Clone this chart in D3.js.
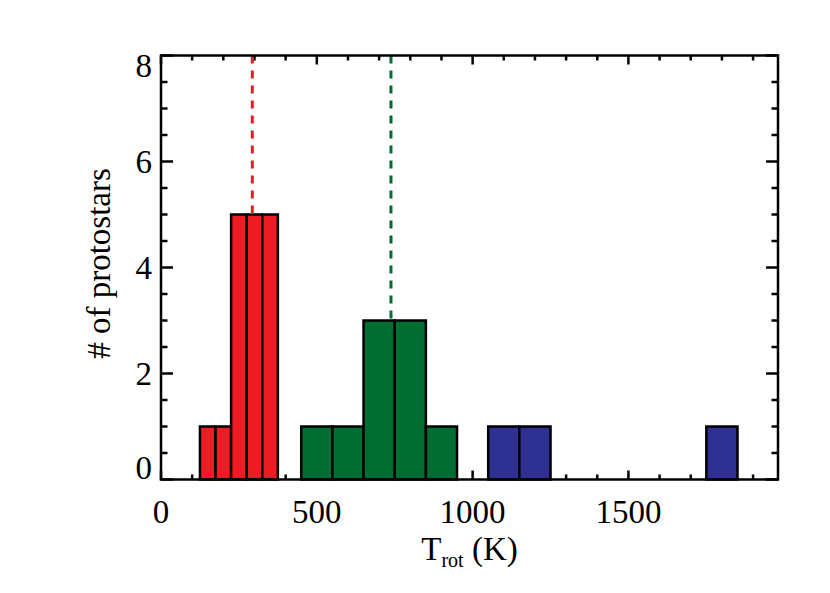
<!DOCTYPE html>
<html>
<head>
<meta charset="utf-8">
<script src="https://cdn.jsdelivr.net/npm/d3@7"></script>
<style>
  html, body { margin: 0; padding: 0; background: #fff; }
  svg { display: block; }
  text { font-family: "Liberation Serif", "DejaVu Serif", serif; fill: #000; }
</style>
</head>
<body>
<svg id="chart" width="830" height="593"></svg>
<script>
// ---- data ----
const binStarts = [125, 175, 225, 275, 325, 450, 550, 650, 750, 850, 1050, 1150, 1750];
const binEnds   = [175, 225, 275, 325, 375, 550, 650, 750, 850, 950, 1150, 1250, 1850];
const binCounts = [1, 1, 5, 5, 5, 1, 1, 3, 3, 1, 1, 1, 1];
const binGroups = ["low", "low", "low", "low", "low", "mid", "mid", "mid", "mid", "mid", "high", "high", "high"];
const groupNames = ["low", "mid", "high"];
const groupColors = ["#ed1c24", "#006e33", "#2e3192"];
const meanGroups = ["low", "mid"];
const meanValues = [293, 738];
const meanHeights = [5, 3];
const xTickValues = [0, 500, 1000, 1500];
const yTickValues = [0, 2, 4, 6, 8];
const xDomain = [0, 1980];
const yDomain = [0, 8];

// ---- layout ----
const svg = d3.select("#chart");
const L = 161, R = 778, T = 55.5, B = 479.5;
const x = d3.scaleLinear().domain(xDomain).range([L, R]);
const y = d3.scaleLinear().domain(yDomain).range([B, T]);
const color = d3.scaleOrdinal().domain(groupNames).range(groupColors);
const FS = 33;

const bins = binStarts.map((s, i) => ({ x0: s, x1: binEnds[i], n: binCounts[i], g: binGroups[i] }));

// ---- ticks (inward) ----
const xMinor = d3.range(0, xDomain[1] + 1, 100).filter(v => v % 500 !== 0);
const yMinor = d3.range(0, 8.01, 0.5).filter(v => v % 2 !== 0);
const tickG = svg.append("g").attr("stroke", "#000").attr("stroke-width", 2.5);

function addTicks(g, vals, len, orient) {
  g.selectAll(null).data(vals).enter().append("line")
    .attr("x1", d => orient === "b" || orient === "t" ? x(d) : (orient === "l" ? L : R))
    .attr("x2", d => orient === "b" || orient === "t" ? x(d) : (orient === "l" ? L + len : R - len))
    .attr("y1", d => orient === "l" || orient === "r" ? y(d) : (orient === "b" ? B : T))
    .attr("y2", d => orient === "l" || orient === "r" ? y(d) : (orient === "b" ? B - len : T + len));
}
addTicks(tickG, xTickValues, 9, "b");
addTicks(tickG, xTickValues, 9, "t");
addTicks(tickG, xMinor, 5, "b");
addTicks(tickG, xMinor, 5, "t");
addTicks(tickG, yTickValues, 12, "l");
addTicks(tickG, yTickValues, 12, "r");
addTicks(tickG, yMinor, 6.5, "l");
addTicks(tickG, yMinor, 6.5, "r");

// ---- bars ----
svg.append("g").selectAll("rect").data(bins).enter().append("rect")
  .attr("x", d => x(d.x0))
  .attr("width", d => x(d.x1) - x(d.x0))
  .attr("y", d => y(d.n))
  .attr("height", d => y(0) - y(d.n))
  .attr("fill", d => color(d.g))
  .attr("stroke", "#000")
  .attr("stroke-width", 2.5);

// ---- mean dashed lines ----
svg.append("g").selectAll("line").data(meanValues).enter().append("line")
  .attr("x1", d => x(d)).attr("x2", d => x(d))
  .attr("y1", y(8)).attr("y2", (d, i) => y(meanHeights[i]))
  .attr("stroke", (d, i) => color(meanGroups[i]))
  .attr("stroke-width", 3)
  .attr("stroke-dasharray", "8,7");

// ---- frame ----
svg.append("rect")
  .attr("x", L).attr("y", T).attr("width", R - L).attr("height", B - T)
  .attr("fill", "none").attr("stroke", "#000").attr("stroke-width", 2.5);

// ---- tick labels ----
svg.append("g").selectAll("text").data(xTickValues).enter().append("text")
  .attr("x", d => x(d)).attr("y", 523)
  .attr("text-anchor", "middle").attr("font-size", FS)
  .text(d => d);

svg.append("g").selectAll("text").data(yTickValues).enter().append("text")
  .attr("x", 152)
  .attr("y", d => d === yDomain[0] ? y(d) - 1 : d === yDomain[1] ? y(d) + 21 : y(d) + 11)
  .attr("text-anchor", "end").attr("font-size", FS)
  .text(d => d);

// ---- axis titles ----
const xt = svg.append("text")
  .attr("x", (L + R) / 2).attr("y", 560)
  .attr("text-anchor", "middle").attr("font-size", FS);
xt.append("tspan").text("T");
xt.append("tspan").attr("font-size", 20).attr("dy", 7).text("rot");
xt.append("tspan").attr("dy", -7).text(" (K)");

svg.append("text")
  .attr("transform", `translate(110, ${(T + B) / 2 - 4}) rotate(-90)`)
  .attr("text-anchor", "middle").attr("font-size", FS)
  .text("# of protostars");
</script>
</body>
</html>
